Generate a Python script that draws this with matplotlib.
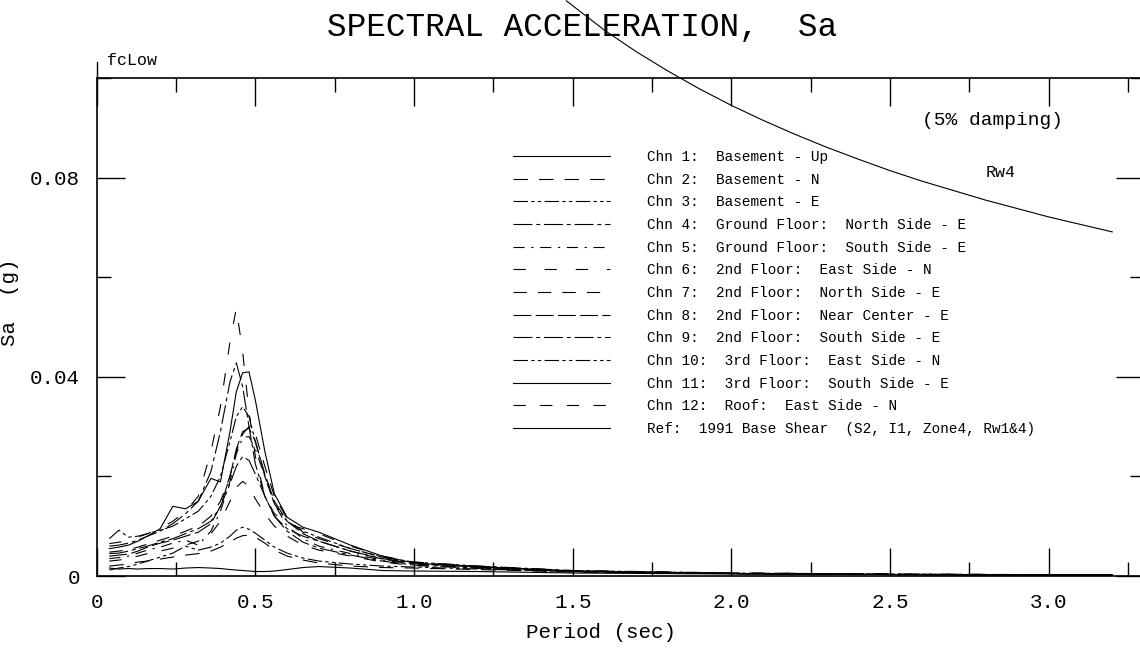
import matplotlib.pyplot as plt

plt.rcParams['font.family'] = ['Liberation Mono', 'DejaVu Sans Mono']

period = [0.04, 0.07, 0.1, 0.13, 0.16, 0.2, 0.24, 0.28, 0.32, 0.36, 0.39, 0.42, 0.44, 0.46,
          0.48, 0.5, 0.53, 0.56, 0.6, 0.65, 0.7, 0.8, 0.9, 1.0, 1.2, 1.5, 2.0, 2.5, 3.2]

# spectral acceleration Sa (g), one list per channel
chn1 = [0.0016, 0.0014, 0.0015, 0.0014, 0.0015, 0.0015, 0.0014, 0.0016, 0.0017, 0.0016, 0.0015, 0.0013, 0.0012, 0.0011,
        0.0010, 0.0009, 0.0009, 0.0010, 0.0013, 0.0017, 0.0019, 0.0016, 0.0011, 0.0010, 0.0009, 0.0006, 0.0004, 0.0003, 0.0002]
chn2 = [0.0020, 0.0022, 0.0024, 0.0028, 0.0030, 0.0034, 0.0038, 0.0042, 0.0045, 0.0050, 0.0058, 0.0068, 0.0076, 0.0081,
        0.0082, 0.0078, 0.0066, 0.0052, 0.0040, 0.0032, 0.0026, 0.0020, 0.0017, 0.0016, 0.0013, 0.0008, 0.0005, 0.0003, 0.0002]
chn3 = [0.0012, 0.0016, 0.0019, 0.0024, 0.0030, 0.0038, 0.0046, 0.0060, 0.0052, 0.0058, 0.0066, 0.0080, 0.0092, 0.0098,
        0.0094, 0.0086, 0.0072, 0.0058, 0.0046, 0.0036, 0.0030, 0.0024, 0.0020, 0.0018, 0.0014, 0.0009, 0.0005, 0.0003, 0.0002]
chn4 = [0.0045, 0.0046, 0.0050, 0.0055, 0.0060, 0.0068, 0.0075, 0.0085, 0.0095, 0.0110, 0.0140, 0.0185, 0.0220, 0.0240,
        0.0232, 0.0205, 0.0160, 0.0120, 0.0090, 0.0068, 0.0056, 0.0042, 0.0030, 0.0022, 0.0016, 0.0009, 0.0005, 0.0003, 0.0002]
chn5 = [0.0035, 0.0037, 0.0040, 0.0046, 0.0052, 0.0058, 0.0066, 0.0072, 0.0062, 0.0090, 0.0130, 0.0190, 0.0245, 0.0278,
        0.0280, 0.0255, 0.0200, 0.0145, 0.0100, 0.0075, 0.0060, 0.0045, 0.0032, 0.0024, 0.0016, 0.0009, 0.0005, 0.0003, 0.0002]
chn6 = [0.0065, 0.0068, 0.0070, 0.0078, 0.0085, 0.0095, 0.0110, 0.0130, 0.0160, 0.0250, 0.0340, 0.0470, 0.0538, 0.0450,
        0.0330, 0.0240, 0.0160, 0.0125, 0.0105, 0.0095, 0.0085, 0.0060, 0.0040, 0.0028, 0.0020, 0.0011, 0.0006, 0.0004, 0.0002]
chn7 = [0.0048, 0.0050, 0.0053, 0.0058, 0.0064, 0.0072, 0.0080, 0.0090, 0.0100, 0.0120, 0.0150, 0.0200, 0.0250, 0.0285,
        0.0300, 0.0285, 0.0220, 0.0160, 0.0115, 0.0088, 0.0075, 0.0055, 0.0038, 0.0027, 0.0019, 0.0010, 0.0006, 0.0004, 0.0002]
chn8 = [0.0040, 0.0042, 0.0044, 0.0050, 0.0058, 0.0066, 0.0072, 0.0080, 0.0088, 0.0105, 0.0140, 0.0200, 0.0255, 0.0290,
        0.0297, 0.0270, 0.0205, 0.0150, 0.0110, 0.0085, 0.0070, 0.0050, 0.0034, 0.0025, 0.0018, 0.0010, 0.0005, 0.0003, 0.0002]
chn9 = [0.0060, 0.0062, 0.0066, 0.0072, 0.0080, 0.0090, 0.0105, 0.0125, 0.0150, 0.0210, 0.0290, 0.0390, 0.0428, 0.0380,
        0.0300, 0.0225, 0.0160, 0.0120, 0.0095, 0.0080, 0.0070, 0.0050, 0.0035, 0.0026, 0.0019, 0.0010, 0.0005, 0.0003, 0.0002]
chn10 = [0.0075, 0.0092, 0.0078, 0.0080, 0.0085, 0.0092, 0.0100, 0.0115, 0.0130, 0.0160, 0.0200, 0.0270, 0.0320, 0.0340,
         0.0320, 0.0270, 0.0200, 0.0145, 0.0110, 0.0090, 0.0078, 0.0055, 0.0038, 0.0028, 0.0020, 0.0011, 0.0006, 0.0004, 0.0002]
chn11 = [0.0055, 0.0058, 0.0062, 0.0070, 0.0080, 0.0095, 0.0140, 0.0135, 0.0150, 0.0196, 0.0189, 0.0290, 0.0370, 0.0408,
         0.0410, 0.0353, 0.0250, 0.0165, 0.0118, 0.0098, 0.0088, 0.0062, 0.0040, 0.0026, 0.0019, 0.0010, 0.0005, 0.0003, 0.0002]
chn12 = [0.0030, 0.0032, 0.0035, 0.0040, 0.0045, 0.0050, 0.0056, 0.0062, 0.0070, 0.0085, 0.0110, 0.0150, 0.0178, 0.0190,
         0.0180, 0.0155, 0.0125, 0.0100, 0.0080, 0.0062, 0.0052, 0.0040, 0.0028, 0.0021, 0.0016, 0.0009, 0.0005, 0.0003, 0.0002]

# 1991 base shear reference (Rw4)
ref_period = [1.48, 1.6, 1.7, 1.8, 1.9, 2.0, 2.1, 2.2, 2.3, 2.4, 2.5, 2.6, 2.7, 2.8, 2.9, 3.0, 3.1, 3.2]
ref_sa = [0.1155, 0.1096, 0.1053, 0.1014, 0.0978, 0.0945, 0.0915, 0.0887, 0.0861, 0.0837, 0.0814,
          0.0793, 0.0774, 0.0755, 0.0738, 0.0721, 0.0706, 0.0691]

labels = ['Chn 1:  Basement - Up',
          'Chn 2:  Basement - N',
          'Chn 3:  Basement - E',
          'Chn 4:  Ground Floor:  North Side - E',
          'Chn 5:  Ground Floor:  South Side - E',
          'Chn 6:  2nd Floor:  East Side - N',
          'Chn 7:  2nd Floor:  North Side - E',
          'Chn 8:  2nd Floor:  Near Center - E',
          'Chn 9:  2nd Floor:  South Side - E',
          'Chn 10:  3rd Floor:  East Side - N',
          'Chn 11:  3rd Floor:  South Side - E',
          'Chn 12:  Roof:  East Side - N']
ref_label = 'Ref:  1991 Base Shear  (S2, I1, Zone4, Rw1&4)'

series = [chn1, chn2, chn3, chn4, chn5, chn6, chn7, chn8, chn9, chn10, chn11, chn12]
styles = ['-', (0, (13, 10)), (0, (13, 3, 3, 3, 3, 3)), (0, (17, 3.5, 3.5, 3.5)),
          (0, (10, 6, 2, 6)), (0, (11, 17)), (0, (12, 10)), (0, (16, 4)),
          (0, (17, 3.5, 3.5, 3.5)), (0, (13, 3, 3, 3, 3, 3)), '-', (0, (11, 13))]

fig = plt.figure(figsize=(11.4, 6.48), dpi=100)
ax = fig.add_axes([0.0848, 0.1111, 0.9187, 0.7685])

for sa, ls, lab in zip(series, styles, labels):
    ax.plot(period, sa, color='black', lw=0.8, linestyle=ls, label=lab)
ax.plot(ref_period, ref_sa, color='black', lw=0.8, label=ref_label, clip_on=False)

ax.set_xlim(0, 3.3)
ax.set_ylim(0, 0.1)
ax.set_xticks([0, 0.5, 1.0, 1.5, 2.0, 2.5, 3.0])
ax.set_xticklabels(['0', '0.5', '1.0', '1.5', '2.0', '2.5', '3.0'])
ax.set_xticks([0.25, 0.75, 1.25, 1.75, 2.25, 2.75, 3.25], minor=True)
ax.set_yticks([0, 0.04, 0.08])
ax.set_yticklabels(['0', '0.04', '0.08'])
ax.set_yticks([0.02, 0.06, 0.1], minor=True)
ax.tick_params(which='both', direction='in', top=True, right=True, labelsize=15, width=1, pad=12)
ax.tick_params(which='major', length=20)
ax.tick_params(which='minor', length=10)
for sp in ax.spines.values():
    sp.set_linewidth(1.2)

ax.set_xlabel('Period (sec)', fontsize=15)
ax.xaxis.set_label_coords(0.482, -0.095)
ax.set_ylabel('Sa  (g)', fontsize=15)
ax.yaxis.set_label_coords(-0.074, 0.55)
fig.text(0.511, 0.957, 'SPECTRAL ACCELERATION,  Sa', fontsize=23.5, ha='center', va='center')
ax.text(0.0, 1.02, ' fcLow', transform=ax.transAxes, fontsize=12, ha='left', va='bottom')
ax.axvline(0, 1.0, 1.033, color='black', lw=1, clip_on=False)
ax.text(0.855, 0.915, '(5% damping)', transform=ax.transAxes, fontsize=14, ha='center', va='center')
ax.text(0.863, 0.81, 'Rw4', transform=ax.transAxes, fontsize=12, ha='center', va='center')

fig.legend(loc='upper left', bbox_to_anchor=(513 / 1140, 1 - 150 / 648), frameon=False,
           fontsize=10.4, handlelength=6.7, handletextpad=2.55, labelspacing=0.6,
           borderpad=0, borderaxespad=0)

fig.savefig('out.png', dpi=100)
